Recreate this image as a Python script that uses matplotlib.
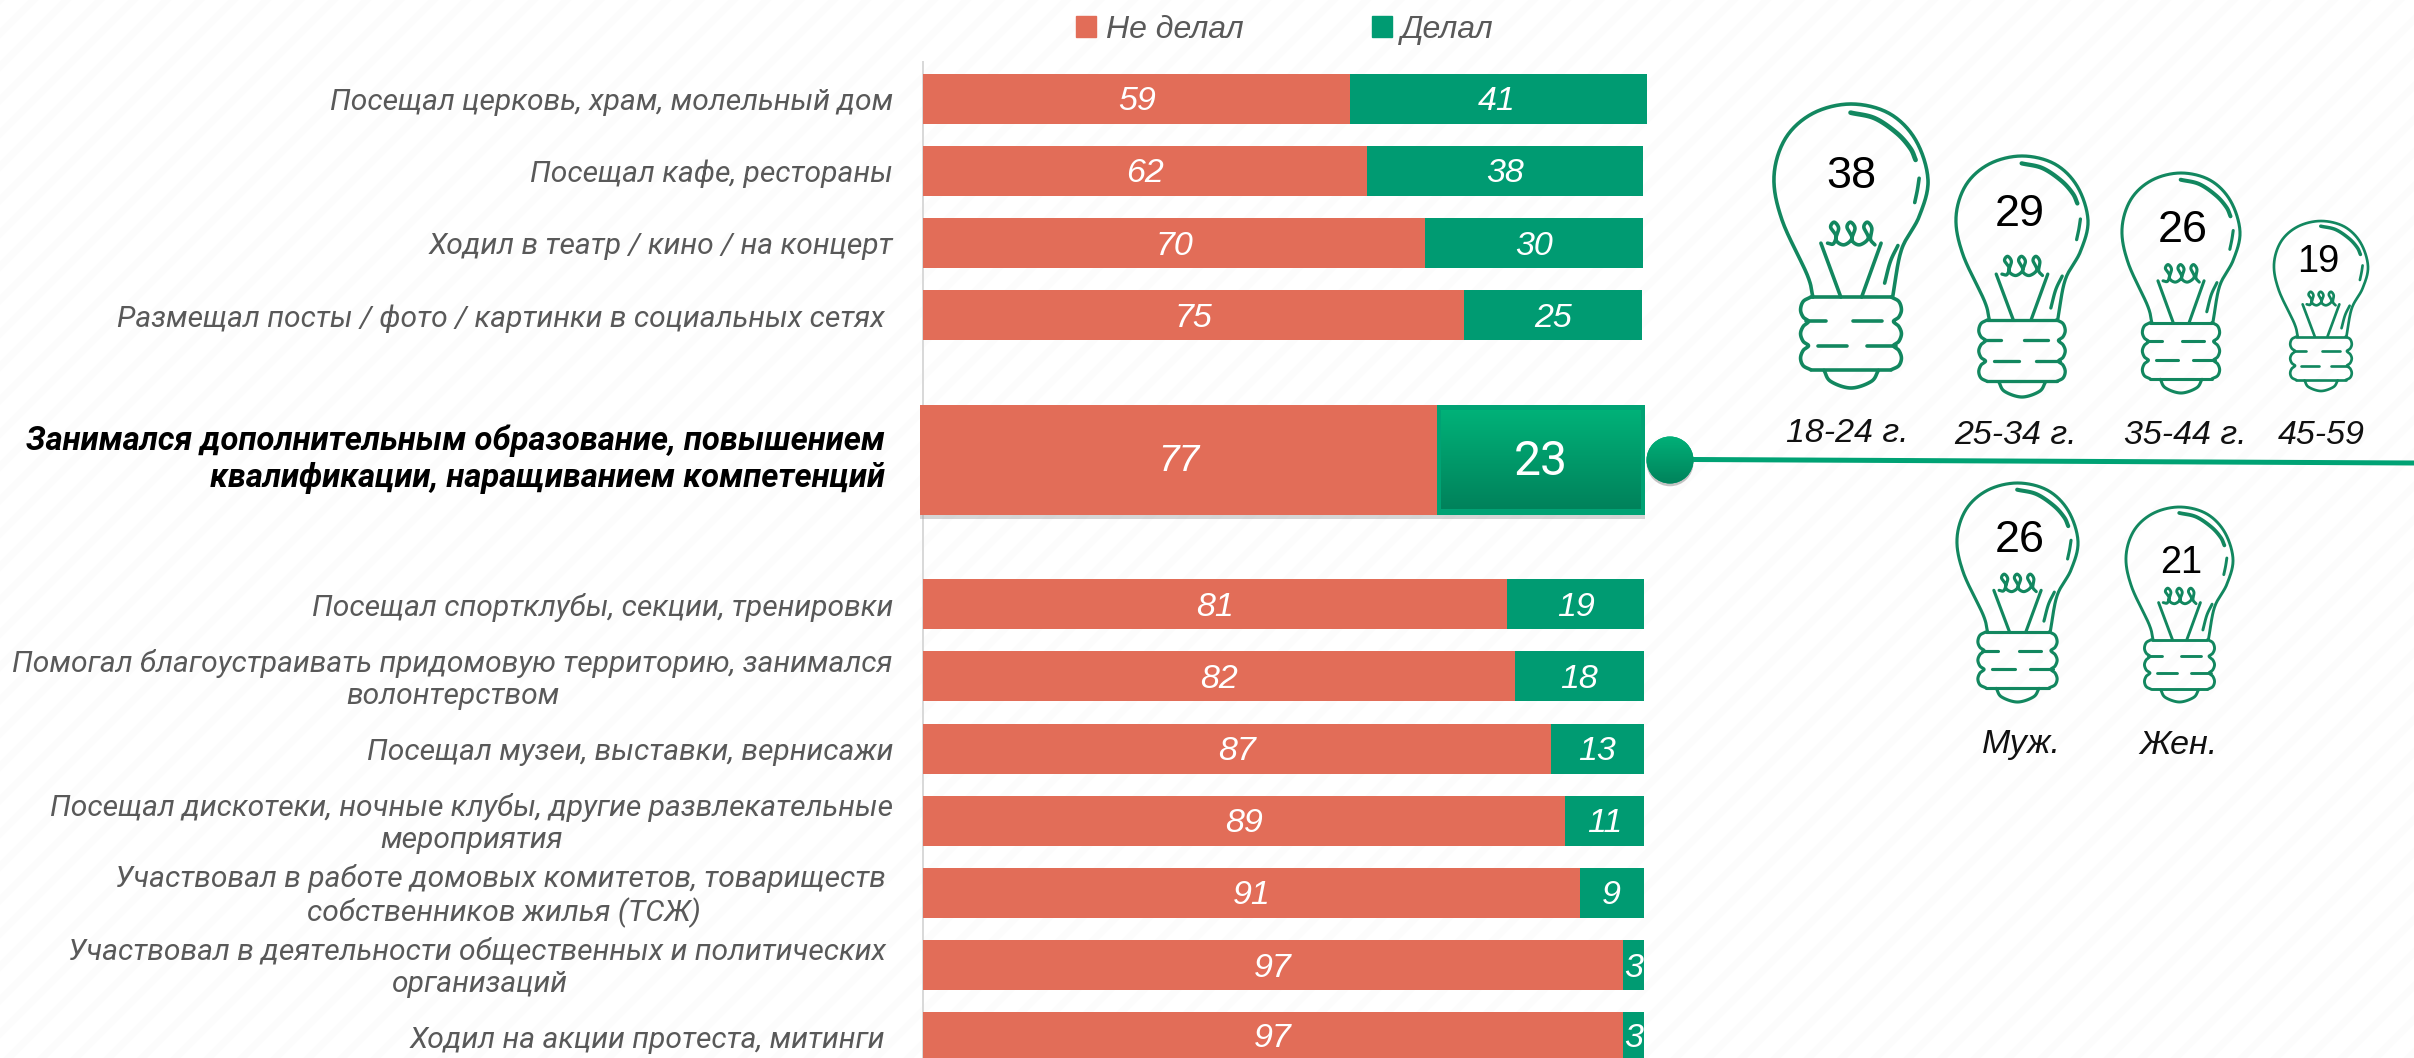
import numpy as np
import matplotlib
matplotlib.use('Agg')
import matplotlib.pyplot as plt
import matplotlib.patheffects as pe
from matplotlib.patches import Circle, Rectangle, Patch

plt.rcParams['font.family'] = ['Liberation Sans', 'DejaVu Sans']
plt.rcParams['hatch.linewidth'] = 5

#Rows of the chart, top to bottom
categories = ['Посещал церковь, храм, молельный дом',
              'Посещал кафе, рестораны',
              'Ходил в театр / кино / на концерт',
              'Размещал посты / фото / картинки в социальных сетях ',
              'Занимался дополнительным образование, повышением\nквалификации, наращиванием компетенций',
              'Посещал спортклубы, секции, тренировки',
              'Помогал благоустраивать придомовую территорию, занимался\nволонтерством',
              'Посещал музеи, выставки, вернисажи',
              'Посещал дискотеки, ночные клубы, другие развлекательные\nмероприятия',
              'Участвовал в работе домовых комитетов, товариществ \nсобственников жилья (ТСЖ)',
              'Участвовал в деятельности общественных и политических \nорганизаций',
              'Ходил на акции протеста, митинги ']
no_labels = [59, 62, 70, 75, 77, 81, 82, 87, 89, 91, 97, 97]
yes_labels = [41, 38, 30, 25, 23, 19, 18, 13, 11, 9, 3, 3]
#Lengths as drawn in the picture (the highlighted bar is not to scale with its label)
no_lengths = [59.3, 61.6, 69.7, 75.0, 71.7, 81.1, 82.1, 87.1, 89.1, 91.1, 97.1, 97.1]
yes_lengths = [41.1, 38.3, 30.2, 24.8, 28.9, 18.9, 17.9, 12.9, 10.9, 8.9, 2.9, 2.9]
legend_names = ['Не делал', 'Делал']

age_labels = ['18-24 г.', '25-34 г.', '35-44 г.', '45-59']
age_values = [38, 29, 26, 19]
sex_labels = ['Муж.', 'Жен.']
sex_values = [26, 21]

RED = '#E26D58'
GREEN = '#009B72'
LINE = '#12875F'
GREY = '#595959'
HL = 4

rows = [0, 1, 2, 3, 5, 7, 8, 9, 10, 11, 12, 13]
W, H = 2414, 1058
px = 0.72  # 1 px in points at dpi 100

fig = plt.figure(figsize=(W / 100, H / 100), dpi=100)
fig.patches.append(Rectangle((0, 0), 1, 1, transform=fig.transFigure, facecolor='white',
                             edgecolor='#FCFCFC', hatch='/', linewidth=0, zorder=-5))

#Bars
ax = fig.add_axes([923 / W, 0, (1643.7 - 923) / W, 1 - 62 / H])
ax.patch.set_alpha(0)
ax.set_xlim(0, 100)
ax.set_ylim((1058 - 98.7) / 72.2, (62 - 98.7) / 72.2)
for s in ['top', 'right', 'bottom']:
    ax.spines[s].set_visible(False)
ax.spines['left'].set_color('#D9D9D9')
ax.spines['left'].set_linewidth(2 * px)
ax.set_xticks([])
ax.set_yticks(rows)
ax.set_yticklabels([])
ax.tick_params(length=0)

normal = [i for i in range(len(rows)) if i != HL]
y_norm = [rows[i] for i in normal]
no_norm = [no_lengths[i] for i in normal]
yes_norm = [yes_lengths[i] for i in normal]
b1 = ax.barh(y_norm, no_norm, height=50 / 72.2, color=RED, clip_on=False, zorder=3)
b2 = ax.barh(y_norm, yes_norm, left=no_norm, height=50 / 72.2, color=GREEN, clip_on=False, zorder=3)
value_style = dict(label_type='center', color='white', fontsize=34 * px, style='italic', zorder=6)
t1 = ax.bar_label(b1, labels=[no_labels[i] for i in normal], **value_style)
t2 = ax.bar_label(b2, labels=[yes_labels[i] for i in normal], **value_style)
for t in list(t1) + list(t2):
    t.xyann = (0, -3 * px)

#Highlighted row
shadow = [pe.SimplePatchShadow(offset=(0, -3), shadow_rgbFace='#999999', alpha=0.4), pe.Normal()]
b3 = ax.barh([rows[HL]], [no_lengths[HL]], left=-0.4, height=110 / 72.2, color=RED, clip_on=False, zorder=4,
             path_effects=shadow)
b4 = ax.barh([rows[HL]], [yes_lengths[HL]], left=no_lengths[HL] - 0.4, height=110 / 72.2, color='#00A274',
             clip_on=False, zorder=4, path_effects=shadow)
grad = np.linspace(0, 1, 64).reshape(-1, 1)
cmap = matplotlib.colors.LinearSegmentedColormap.from_list('g', ['#00B178', '#00825B'])
x0 = no_lengths[HL] - 0.4 + 0.6
x1 = x0 + yes_lengths[HL] - 1.2
ax.imshow(grad, extent=(x0, x1, rows[HL] + 0.68, rows[HL] - 0.68), cmap=cmap, aspect='auto', zorder=4.5,
          clip_on=False)
ax.set_xlim(0, 100)
ax.set_ylim((1058 - 98.7) / 72.2, (62 - 98.7) / 72.2)
ax.text(-0.4 + no_lengths[HL] / 2, rows[HL] + 0.03, str(no_labels[HL]), color='white', fontsize=37 * px,
        style='italic', ha='center', va='center', zorder=6)
ax.text(x0 + (x1 - x0) / 2, rows[HL] + 0.03, str(yes_labels[HL]), color='white', fontsize=48 * px,
        family=['Roboto', 'DejaVu Sans'], ha='center', va='center', zorder=6)

#Category labels, right edges differ a little as in the picture
for i, (r, c) in enumerate(zip(rows, categories)):
    if i == HL:
        ax.annotate(c, xy=(0, r), xycoords=('axes fraction', 'data'), xytext=(-38 * px, 0),
                    textcoords='offset points', ha='right', va='center', ma='right', style='italic',
                    weight='bold', family=['Roboto', 'DejaVu Sans'], fontsize=32.8 * px, color='black',
                    linespacing=1.2)
    else:
        ax.annotate(c.rstrip(), xy=(0, r), xycoords=('axes fraction', 'data'),
                    xytext=((-38 if c.endswith(' ') else -30) * px, -3 * px), textcoords='offset points',
                    ha='right', va='center', ma='center', style='italic', family=['Roboto', 'DejaVu Sans'],
                    fontsize=30 * px, color=GREY, linespacing=1.2)

fig.legend(handles=[Patch(color=RED), Patch(color=GREEN)], labels=legend_names, ncols=2, frameon=False,
           loc='center', bbox_to_anchor=(1285 / W, 1 - 30 / H), labelcolor=GREY,
           prop=dict(style='italic', size=32 * px), handlelength=0.63, handleheight=0.63,
           handletextpad=0.3, columnspacing=4.0)

#Overlay in pixel coordinates for the bulbs and the connector
ov = fig.add_axes([0, 0, 1, 1])
ov.set_xlim(0, W)
ov.set_ylim(H, 0)
ov.axis('off')
ov.patch.set_alpha(0)


def spline(pts, n=16):
    pts = np.array(pts, dtype=float)
    p = np.vstack([2 * pts[0] - pts[1], pts, 2 * pts[-1] - pts[-2]])
    out = []
    for i in range(1, len(p) - 2):
        for t in np.linspace(0, 1, n, endpoint=False):
            out.append(0.5 * (2 * p[i] + (p[i + 1] - p[i - 1]) * t
                              + (2 * p[i - 1] - 5 * p[i] + 4 * p[i + 1] - p[i + 2]) * t ** 2
                              + (3 * p[i] - p[i - 1] - 3 * p[i + 1] + p[i + 2]) * t ** 3))
    out.append(p[-2])
    return np.array(out)


#Bulb outline, in the coordinates of a 348x853 template
glass = [(210, 652), (197, 585), (140, 420), (122, 290), (148, 175), (210, 100), (296, 72), (382, 100),
         (442, 180), (470, 300), (450, 410), (410, 510), (390, 652)]
shine = [(295, 98), (350, 115), (400, 160), (430, 205), (442, 240)]
dash1 = [(450, 295), (446, 330), (440, 368)]
dash2 = [(402, 497), (385, 545), (372, 610)]
coil = [(243, 490), (256, 492), (262, 468), (250, 442), (258, 427), (268, 445), (262, 480), (280, 495),
        (298, 475), (287, 442), (295, 427), (305, 445), (298, 480), (315, 495), (335, 475), (325, 442),
        (333, 427), (343, 445), (340, 478), (350, 495)]
left_cap = [(205, 652), (188, 665), (182, 690), (188, 712), (200, 725), (188, 740), (182, 762), (188, 785),
            (200, 798), (188, 812), (182, 835), (188, 858), (205, 870)]
right_cap = [(592 - x, y) for x, y in left_cap]
foot = [(235, 872), (250, 905), (296, 925), (342, 905), (358, 872)]
straight = [[(228, 490), (273, 652)], [(364, 490), (320, 652)], [(205, 652), (387, 652)], [(205, 870), (387, 870)],
            [(195, 725), (240, 725)], [(300, 725), (365, 725)], [(222, 798), (288, 798)], [(332, 798), (397, 798)]]


def bulb(left, right, top, bottom):
    w = right - left
    lw = 3.6 * (w / 154) ** 0.6 * px

    def tr(pts):
        a = np.array(pts, dtype=float)
        return left + (a[:, 0] - 122) / 348 * w, top + (a[:, 1] - 72) / 853 * (bottom - top)

    for shape in [glass, coil, left_cap, right_cap, foot, dash1, dash2]:
        x, y = tr(spline(shape))
        ov.plot(x, y, color=LINE, lw=lw, solid_capstyle='round')
    x, y = tr(spline(shine))
    ov.plot(x, y, color=LINE, lw=lw * 1.3, solid_capstyle='round')
    for seg in straight:
        x, y = tr(seg)
        ov.plot(x, y, color=LINE, lw=lw, solid_capstyle='round')


age_boxes = [(1774, 1928, 104, 388), (1956, 2088, 156, 397), (2122, 2240, 173, 393), (2274, 2368, 221, 391)]
sex_boxes = [(1957, 2078, 483, 702), (2126, 2233, 507, 702)]
for b in age_boxes + sex_boxes:
    bulb(*b)

digits = list(zip(age_values + sex_values,
                  [(1851, 176, 45), (2020, 215, 45), (2183, 231, 45), (2318, 262, 38), (2020, 540, 45),
                   (2181, 563, 38)]))
for v, (x, y, size) in digits:
    ov.text(x, y, str(v), fontsize=size * px, color='black', ha='center', va='center')
for lab, (x, y) in zip(age_labels + sex_labels,
                       [(1847, 433), (2016, 435), (2185, 436), (2321, 436), (2021, 745), (2178, 745)]):
    ov.text(x, y, lab, fontsize=34 * px, style='italic', color='#111111', ha='center', va='center')

#Connector from the highlighted bar
ov.plot([1693, W], [459.5, 463], color='#00A274', lw=5 * px, solid_capstyle='butt', zorder=2)
dot = Circle((1670, 460), 23.5, facecolor='#00A274', edgecolor='none', zorder=3,
             path_effects=[pe.SimplePatchShadow(offset=(0, -2), shadow_rgbFace='#888888', alpha=0.5), pe.Normal()])
ov.add_patch(dot)
im = ov.imshow(grad, extent=(1646, 1694, 484, 436), cmap=cmap, aspect='auto', zorder=3.5)
im.set_clip_path(dot)
ov.set_xlim(0, W)
ov.set_ylim(H, 0)

fig.savefig('out.png', dpi=100)
